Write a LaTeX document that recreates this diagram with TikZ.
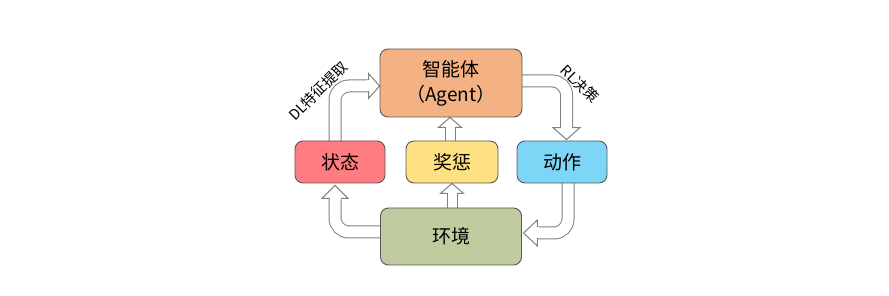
\documentclass[tikz,border=0pt]{standalone}
\usepackage{fontspec}
\newfontfamily\cjk{Noto Sans CJK SC}
\usetikzlibrary{calc}
\definecolor{agentc}{HTML}{F4B183}
\definecolor{statec}{HTML}{FF7C80}
\definecolor{rewardc}{HTML}{FFE083}
\definecolor{actionc}{HTML}{7DD6F5}
\definecolor{envc}{HTML}{C0CCA0}
\definecolor{boxline}{HTML}{595959}
\definecolor{agray}{HTML}{808080}
\tikzset{
  box/.style={draw=boxline, line width=0.9pt, rounded corners=8pt, inner sep=0pt, font=\cjk\fontsize{19}{24}\selectfont, align=center},
  arrowout/.style={draw=agray, line width=13pt},
  arrowin/.style={draw=white, line width=11pt},
  thinout/.style={draw=agray, line width=11pt},
  thinin/.style={draw=white, line width=9pt},
  headst/.style={fill=white, draw=agray, line width=1pt, line join=miter},
  lbl/.style={font=\cjk\fontsize{14.5}{16}\selectfont, inner sep=0pt}
}
\begin{document}
\begin{tikzpicture}[x=1pt,y=-1pt]
\useasboundingbox (0,0) rectangle (889,296);
% node positions (coordinates only; boxes drawn later on top)
\path (451,83) node[box, minimum width=142pt, minimum height=68pt, draw=none] (agent) {};
\path (340,162) node[box, minimum width=90pt, minimum height=42pt, draw=none] (state) {};
\path (452,162) node[box, minimum width=92pt, minimum height=42pt, draw=none] (reward) {};
\path (562,162) node[box, minimum width=90pt, minimum height=42pt, draw=none] (action) {};
\path (451,236.5) node[box, minimum width=141pt, minimum height=57pt, draw=none] (env) {};

% Arrow 1: state -> agent
\coordinate (a1s) at ($(state.north)+(-5,4)$);
\coordinate (a1t) at ($(agent.west)+(0,3)$);
\coordinate (a1b) at ($(a1t)+(-11,0)$);
\draw[arrowout, rounded corners=14pt] (a1s) -- (a1s |- a1t) -- (a1b);
\draw[arrowin, rounded corners=14pt] (a1s) -- (a1s |- a1t) -- (a1b);
\draw[headst] ($(a1b)+(0,-12.5)$) -- (a1t) -- ($(a1b)+(0,12.5)$) -- cycle;
\draw[arrowin] ($(a1b)+(-2,0)$) -- ($(a1b)+(2,0)$);

% Arrow 2: agent -> action
\coordinate (a2s) at ($(agent.east)+(-4,-2)$);
\coordinate (a2t) at ($(action.north)+(4.5,-1)$);
\coordinate (a2b) at ($(a2t)+(0,-12)$);
\draw[arrowout, rounded corners=14pt] (a2s) -- (a2s -| a2t) -- (a2b);
\draw[arrowin, rounded corners=14pt] (a2s) -- (a2s -| a2t) -- (a2b);
\draw[headst] ($(a2b)+(-13.5,0)$) -- (a2t) -- ($(a2b)+(13.5,0)$) -- cycle;
\draw[arrowin] ($(a2b)+(0,-2)$) -- ($(a2b)+(0,2)$);

% Arrow 3: env -> state
\coordinate (a3s) at ($(env.west)+(4,-4.5)$);
\coordinate (a3t) at ($(state.south)+(-5,2)$);
\coordinate (a3b) at ($(a3t)+(0,13)$);
\draw[arrowout, rounded corners=14pt] (a3s) -- (a3s -| a3t) -- (a3b);
\draw[arrowin, rounded corners=14pt] (a3s) -- (a3s -| a3t) -- (a3b);
\draw[headst] ($(a3b)+(-13,0)$) -- (a3t) -- ($(a3b)+(13,0)$) -- cycle;
\draw[arrowin] ($(a3b)+(0,-2)$) -- ($(a3b)+(0,2)$);

% Arrow 4: action -> env
\coordinate (a4s) at ($(action.south)+(6,-4)$);
\coordinate (a4t) at ($(env.east)+(1.5,-3.5)$);
\coordinate (a4b) at ($(a4t)+(14,0)$);
\draw[arrowout, rounded corners=14pt] (a4s) -- (a4s |- a4t) -- (a4b);
\draw[arrowin, rounded corners=14pt] (a4s) -- (a4s |- a4t) -- (a4b);
\draw[headst] ($(a4b)+(0,-13)$) -- (a4t) -- ($(a4b)+(0,13)$) -- cycle;
\draw[arrowin] ($(a4b)+(-2,0)$) -- ($(a4b)+(2,0)$);

% Arrow 5: env -> reward
\coordinate (a5s) at ($(env.north)+(1,4)$);
\coordinate (a5t) at ($(reward.south)+(0,0)$);
\coordinate (a5b) at ($(a5t)+(0,10)$);
\draw[thinout] (a5s) -- (a5b);
\draw[thinin] (a5s) -- (a5b);
\draw[headst] ($(a5b)+(-11.5,0)$) -- (a5t) -- ($(a5b)+(11.5,0)$) -- cycle;
\draw[thinin] ($(a5b)+(0,-2)$) -- ($(a5b)+(0,2)$);

% Arrow 6: reward -> agent
\coordinate (a6s) at ($(reward.north)+(-2,4)$);
\coordinate (a6t) at ($(agent.south)+(-1,0)$);
\coordinate (a6b) at ($(a6t)+(0,10)$);
\draw[thinout] (a6s) -- (a6b);
\draw[thinin] (a6s) -- (a6b);
\draw[headst] ($(a6b)+(-11.5,0)$) -- (a6t) -- ($(a6b)+(11.5,0)$) -- cycle;
\draw[thinin] ($(a6b)+(0,-2)$) -- ($(a6b)+(0,2)$);

% Boxes
\node[box, fill=agentc, minimum width=142pt, minimum height=68pt] at (agent) {智能体\\[1pt]（Agent）};
\node[box, fill=statec, minimum width=90pt, minimum height=42pt] at (state) {状态};
\node[box, fill=rewardc, minimum width=92pt, minimum height=42pt] at (reward) {奖惩};
\node[box, fill=actionc, minimum width=90pt, minimum height=42pt] at (action) {动作};
\node[box, fill=envc, minimum width=141pt, minimum height=57pt] at (env) {环境};

% Labels
\node[lbl, rotate=45] (l1) at (318,91) {DL特征提取};
\node[lbl, rotate=-45] (l2) at (580,84) {RL决策};
\end{tikzpicture}
\end{document}
